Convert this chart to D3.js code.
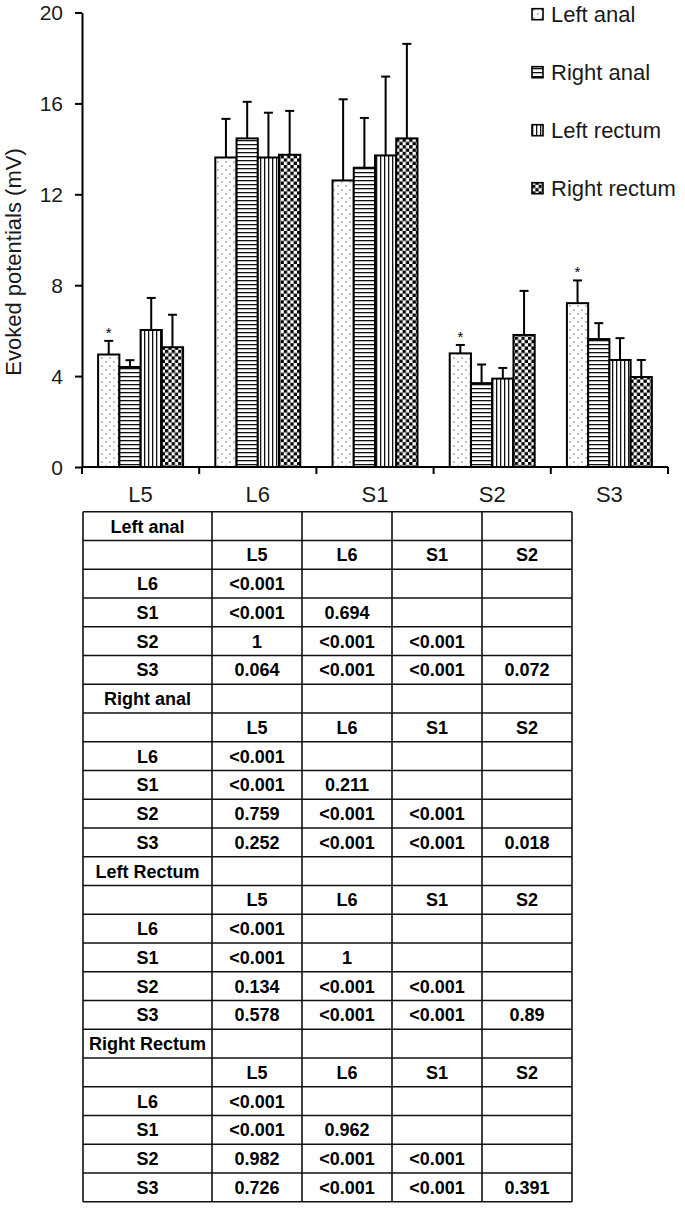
<!DOCTYPE html>
<html>
<head>
<meta charset="utf-8">
<script src="https://cdn.jsdelivr.net/npm/d3@7/dist/d3.min.js"></script>
<style>
  html, body { margin: 0; padding: 0; background: #fff; }
  svg { display: block; }
</style>
</head>
<body>
<script>
// ---------------- DATA ----------------
const categories = ["L5", "L6", "S1", "S2", "S3"];
const seriesNames = ["Left anal", "Right anal", "Left rectum", "Right rectum"];
const leftAnal     = [4.95, 13.62, 12.61, 5.00, 7.21];
const rightAnal    = [4.40, 14.46, 13.17, 3.69, 5.63];
const leftRectum   = [6.03, 13.62, 13.71, 3.89, 4.71];
const rightRectum  = [5.27, 13.74, 14.46, 5.81, 3.96];
const leftAnalErr    = [0.60, 1.70, 3.57, 0.37, 1.00];
const rightAnalErr   = [0.30, 1.61, 2.19, 0.82, 0.70];
const leftRectumErr  = [1.41, 1.97, 3.47, 0.47, 0.96];
const rightRectumErr = [1.43, 1.93, 4.16, 1.94, 0.75];
const leftAnalStar   = [true, false, false, true, true];
const yTicks = [0, 4, 8, 12, 16, 20];
const yTitle = "Evoked potentials (mV)";

const tableTitles = ["Left anal", "Right anal", "Left Rectum", "Right Rectum"];
const colHeaders = ["L5", "L6", "S1", "S2"];
const rowLabels = ["L6", "S1", "S2", "S3"];
const pLeftAnal    = [["<0.001"], ["<0.001", "0.694"], ["1", "<0.001", "<0.001"], ["0.064", "<0.001", "<0.001", "0.072"]];
const pRightAnal   = [["<0.001"], ["<0.001", "0.211"], ["0.759", "<0.001", "<0.001"], ["0.252", "<0.001", "<0.001", "0.018"]];
const pLeftRectum  = [["<0.001"], ["<0.001", "1"], ["0.134", "<0.001", "<0.001"], ["0.578", "<0.001", "<0.001", "0.89"]];
const pRightRectum = [["<0.001"], ["<0.001", "0.962"], ["0.982", "<0.001", "<0.001"], ["0.726", "<0.001", "<0.001", "0.391"]];

// ---------------- SETUP ----------------
const W = 685, H = 1208;
const svg = d3.select("body").append("svg").attr("width", W).attr("height", H);
const font = "Liberation Sans, Arial, Helvetica, sans-serif";
const ink = "#1a1a1a";

const values = [leftAnal, rightAnal, leftRectum, rightRectum];
const errs = [leftAnalErr, rightAnalErr, leftRectumErr, rightRectumErr];
const patIds = ["patDots", "patHoriz", "patVert", "patCheck"];

// patterns
const defs = svg.append("defs");
const pd = defs.append("pattern").attr("id", "patDots").attr("patternUnits", "userSpaceOnUse")
  .attr("width", 8).attr("height", 8);
pd.append("rect").attr("width", 8).attr("height", 8).attr("fill", "#fff");
pd.append("circle").attr("cx", 2).attr("cy", 2).attr("r", 0.7).attr("fill", "#555");
pd.append("circle").attr("cx", 6).attr("cy", 6).attr("r", 0.7).attr("fill", "#555");

const ph = defs.append("pattern").attr("id", "patHoriz").attr("patternUnits", "userSpaceOnUse")
  .attr("width", 4).attr("height", 4);
ph.append("rect").attr("width", 4).attr("height", 4).attr("fill", "#fff");
ph.append("rect").attr("y", 0).attr("width", 4).attr("height", 1.3).attr("fill", "#111");

const pv = defs.append("pattern").attr("id", "patVert").attr("patternUnits", "userSpaceOnUse")
  .attr("width", 4).attr("height", 4);
pv.append("rect").attr("width", 4).attr("height", 4).attr("fill", "#fff");
pv.append("rect").attr("x", 0).attr("width", 1.3).attr("height", 4).attr("fill", "#111");

const pc = defs.append("pattern").attr("id", "patCheck").attr("patternUnits", "userSpaceOnUse")
  .attr("width", 6.6).attr("height", 6.6);
pc.append("rect").attr("width", 6.6).attr("height", 6.6).attr("fill", "#fff");
pc.append("rect").attr("width", 3.3).attr("height", 3.3).attr("fill", "#000");
pc.append("rect").attr("x", 3.3).attr("y", 3.3).attr("width", 3.3).attr("height", 3.3).attr("fill", "#000");

// ---------------- CHART ----------------
const axisX0 = 82, axisX1 = 668;
const y = d3.scaleLinear().domain([0, 20]).range([467, 12.5]);
const x0 = d3.scaleBand().domain(categories).range([axisX0, axisX1]).paddingInner(0.275).paddingOuter(0.1375);
const x1 = d3.scaleBand().domain(d3.range(seriesNames.length)).range([0, x0.bandwidth()]);

const g = svg.append("g");

// bars
seriesNames.forEach((s, si) => {
  const gs = g.append("g");
  gs.selectAll("rect").data(categories).join("rect")
    .attr("x", c => x0(c) + x1(si))
    .attr("y", (c, i) => y(values[si][i]))
    .attr("width", x1.bandwidth())
    .attr("height", (c, i) => y(0) - y(values[si][i]))
    .attr("fill", `url(#${patIds[si]})`)
    .attr("stroke", "#000").attr("stroke-width", 2);
  // error bars
  const eb = gs.selectAll("g.err").data(categories).join("g").attr("class", "err");
  eb.append("line")
    .attr("x1", c => x0(c) + x1(si) + x1.bandwidth() / 2)
    .attr("x2", c => x0(c) + x1(si) + x1.bandwidth() / 2)
    .attr("y1", (c, i) => y(values[si][i]))
    .attr("y2", (c, i) => y(values[si][i] + errs[si][i]))
    .attr("stroke", "#000").attr("stroke-width", 2);
  eb.append("line")
    .attr("x1", c => x0(c) + x1(si) + x1.bandwidth() / 2 - 4.5)
    .attr("x2", c => x0(c) + x1(si) + x1.bandwidth() / 2 + 4.5)
    .attr("y1", (c, i) => y(values[si][i] + errs[si][i]))
    .attr("y2", (c, i) => y(values[si][i] + errs[si][i]))
    .attr("stroke", "#000").attr("stroke-width", 2);
});

// stars
g.selectAll("text.star").data(categories.filter((c, i) => leftAnalStar[i])).join("text")
  .attr("class", "star")
  .attr("x", c => x0(c) + x1(0) + x1.bandwidth() / 2)
  .attr("y", c => { const i = categories.indexOf(c); return y(leftAnal[i] + leftAnalErr[i]) - 3; })
  .attr("text-anchor", "middle").attr("font-family", font).attr("font-size", 15)
  .attr("fill", "#000").text("*");

// y axis
const yAxis = d3.axisLeft(y).tickValues(yTicks).tickSize(7).tickSizeOuter(0).tickPadding(12);
const ya = svg.append("g").attr("transform", `translate(${axisX0},0)`).call(yAxis);
ya.select(".domain").attr("stroke", "#000").attr("stroke-width", 2);
ya.selectAll(".tick line").attr("stroke", "#000").attr("stroke-width", 2);
ya.selectAll(".tick text").attr("font-family", font).attr("font-size", 21).attr("fill", ink).attr("dy", "0.34em");

// x axis
const xa = svg.append("g").attr("transform", `translate(0,${y(0)})`);
xa.append("line").attr("x1", axisX0).attr("x2", axisX1).attr("stroke", "#000").attr("stroke-width", 2);
const boundaries = categories.map(c => x0(c) - x0.step() * x0.paddingInner() / 2).concat([axisX1]);
xa.selectAll("line.tk").data(boundaries).join("line").attr("class", "tk")
  .attr("x1", d => d).attr("x2", d => d).attr("y1", 0).attr("y2", 7)
  .attr("stroke", "#000").attr("stroke-width", 2);
xa.selectAll("text").data(categories).join("text")
  .attr("x", c => x0(c) + x0.bandwidth() / 2).attr("y", 35)
  .attr("text-anchor", "middle").attr("font-family", font).attr("font-size", 22)
  .attr("fill", ink).text(c => c);

// y title
svg.append("text").attr("transform", "translate(21,262) rotate(-90)")
  .attr("text-anchor", "middle").attr("font-family", font).attr("font-size", 22)
  .attr("fill", ink).text(yTitle);

// legend
const lg = svg.append("g").attr("transform", "translate(532,0)");
seriesNames.forEach((s, si) => {
  const yy = 21.7 + si * 58;
  lg.append("rect").attr("x", 0).attr("y", yy - 13).attr("width", 11).attr("height", 11)
    .attr("fill", `url(#${patIds[si]})`).attr("stroke", "#000").attr("stroke-width", 1.6);
  lg.append("text").attr("x", 19).attr("y", yy).attr("font-family", font).attr("font-size", 22)
    .attr("fill", ink).text(s);
});

// ---------------- TABLE ----------------
const pBlocks = [pLeftAnal, pRightAnal, pLeftRectum, pRightRectum];
const colX = [83, 212, 302, 392, 482, 572];
const tTop = 511.7, rowH = 28.75;
const rows = [];
tableTitles.forEach((t, bi) => {
  rows.push([t, "", "", "", ""]);
  rows.push([""].concat(colHeaders));
  rowLabels.forEach((r, ri) => {
    const vals = pBlocks[bi][ri];
    rows.push([r].concat(colHeaders.map((c, ci) => vals[ci] || "")));
  });
});
const tg = svg.append("g");
const tY = d3.scaleLinear().domain([0, rows.length]).range([tTop, tTop + rowH * rows.length]);
// grid
tg.selectAll("line.h").data(d3.range(rows.length + 1)).join("line").attr("class", "h")
  .attr("x1", colX[0]).attr("x2", colX[colX.length - 1])
  .attr("y1", d => tY(d)).attr("y2", d => tY(d))
  .attr("stroke", "#111").attr("stroke-width", 1.6);
tg.selectAll("line.v").data(colX).join("line").attr("class", "v")
  .attr("x1", d => d).attr("x2", d => d)
  .attr("y1", tY(0)).attr("y2", tY(rows.length))
  .attr("stroke", "#111").attr("stroke-width", 1.6);
// cell texts
rows.forEach((r, ri) => {
  r.forEach((txt, ci) => {
    if (!txt) return;
    tg.append("text")
      .attr("x", (colX[ci] + colX[ci + 1]) / 2)
      .attr("y", tY(ri) + rowH / 2 + 6.5)
      .attr("text-anchor", "middle").attr("font-family", font)
      .attr("font-weight", "bold").attr("font-size", 18).attr("fill", "#000")
      .text(txt);
  });
});
</script>
</body>
</html>
